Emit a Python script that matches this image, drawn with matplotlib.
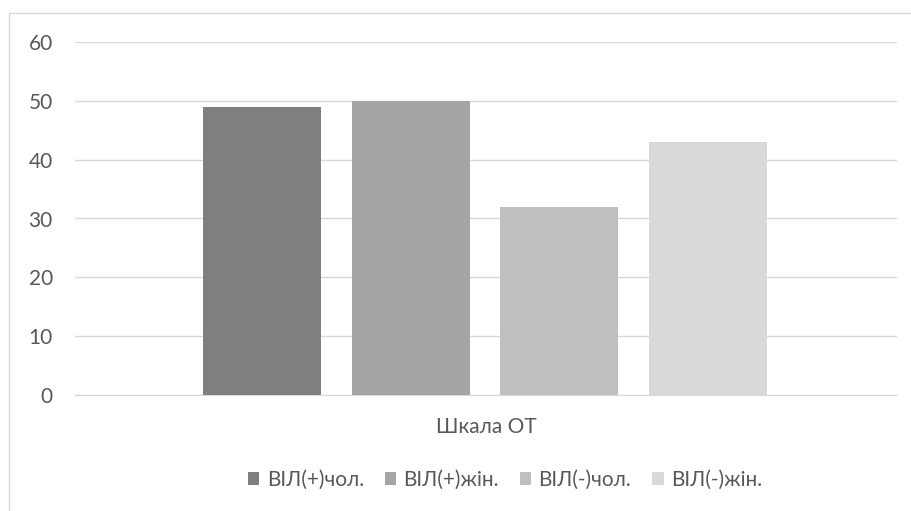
import matplotlib.pyplot as plt
from matplotlib.patches import Rectangle

category = 'Шкала ОТ'
series_names = ['ВІЛ(+)чол.', 'ВІЛ(+)жін.', 'ВІЛ(-)чол.', 'ВІЛ(-)жін.']
values = [49, 50, 32, 43]
colors = ['#7f7f7f', '#a5a5a5', '#bfbfbf', '#d9d9d9']
yticks = [0, 10, 20, 30, 40, 50, 60]

plt.rcParams['font.family'] = ['Lato', 'DejaVu Sans']
text_color = '#595959'

fig = plt.figure(figsize=(9.12, 5.11), dpi=100)
# chart area frame
fig.patches.append(Rectangle((9 / 912, -0.1), 1.1, (511 - 13) / 511 + 0.1,
                             transform=fig.transFigure, fill=False,
                             edgecolor='#d9d9d9', linewidth=1.0))

ax = fig.add_axes([75 / 912, 116 / 511, 822 / 912, 353 / 511])

width = 118 / 822
step = 149 / 822
for i, (name, v, c) in enumerate(zip(series_names, values, colors)):
    x = (i - 1.5) * step - 1 / 822
    ax.bar(x, v, width=width, color=c, label=name, zorder=3)

ax.set_xlim(-0.5, 0.5)
ax.set_ylim(0, 60)
ax.set_yticks(yticks)
ax.set_xticks([0])
ax.set_xticklabels([category])
ax.grid(axis='y', color='#d9d9d9', linewidth=1.0, zorder=0)
for s in ax.spines.values():
    s.set_visible(False)
ax.spines['bottom'].set_visible(True)
ax.spines['bottom'].set_color('#d9d9d9')
ax.tick_params(axis='both', length=0, labelsize=15, colors=text_color)
ax.tick_params(axis='y', pad=16)
ax.tick_params(axis='x', pad=16)

ax.legend(loc='center', bbox_to_anchor=(505 / 912, 31 / 511), bbox_transform=fig.transFigure,
          ncol=4, frameon=False, fontsize=15, handlelength=0.55, handleheight=0.55,
          handletextpad=0.35, columnspacing=1.0, labelcolor=text_color)

fig.savefig('out.png', dpi=100)
